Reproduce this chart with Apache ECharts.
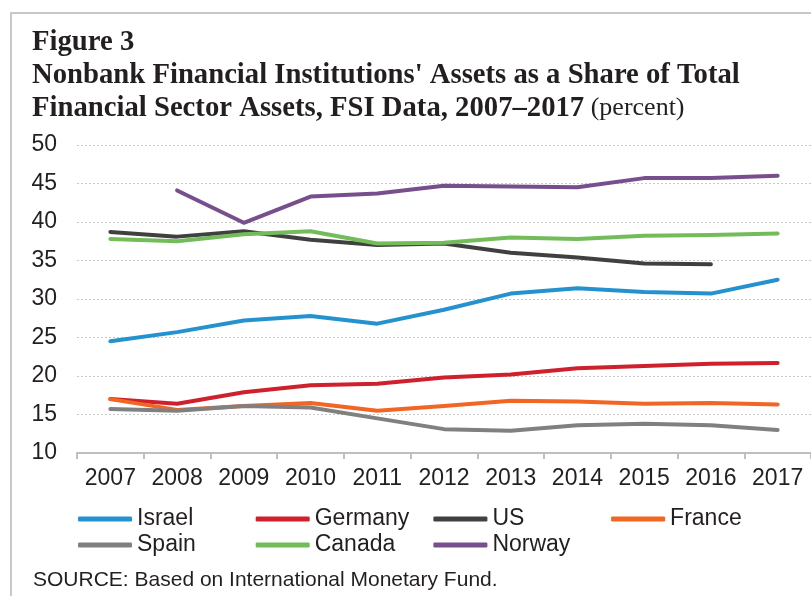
<!DOCTYPE html>
<html>
<head>
<meta charset="utf-8">
<script src="https://cdn.jsdelivr.net/npm/echarts@6/dist/echarts.min.js"></script>
<style>
  html, body { margin: 0; padding: 0; background: #fff; }
  #chart { width: 811px; height: 596px; }
</style>
</head>
<body>
<div id="chart"></div>
<script>
// categories and tick values
const years = ['2007', '2008', '2009', '2010', '2011', '2012', '2013', '2014', '2015', '2016', '2017']

// series values (percent)
const israel  = [24.5, 25.7, 27.2, 27.8, 26.8, 28.6, 30.7, 31.4, 30.9, 30.7, 32.5]
const germany = [17.0, 16.4, 17.9, 18.8, 19.0, 19.8, 20.2, 21.0, 21.3, 21.6, 21.7]
const us      = [38.7, 38.1, 38.8, 37.7, 37.0, 37.2, 36.0, 35.4, 34.6, 34.5, null]
const france  = [17.0, 15.6, 16.1, 16.5, 15.5, 16.1, 16.8, 16.7, 16.4, 16.5, 16.3]
const spain   = [15.7, 15.5, 16.1, 15.9, 14.5, 13.1, 12.9, 13.6, 13.8, 13.6, 13.0]
const canada  = [37.8, 37.5, 38.4, 38.8, 37.2, 37.3, 38.0, 37.8, 38.2, 38.3, 38.5]
const norway  = [null, 44.1, 39.9, 43.3, 43.7, 44.7, 44.6, 44.5, 45.7, 45.7, 46.0]

const names  = ['Israel', 'Germany', 'US', 'France', 'Spain', 'Canada', 'Norway']
const values = [israel, germany, us, france, spain, canada, norway]
const colors = ['#2592d0', '#cf202e', '#404040', '#f26624', '#808080', '#72bd5a', '#774f8d']

let myChart = echarts.init(document.getElementById('chart'))

let series = names.map(function (name, i) {
  return {
    name: name,
    type: 'line',
    data: values[i],
    showSymbol: false,
    symbol: 'none',
    connectNulls: false,
    lineStyle: { width: 4, color: colors[i], cap: 'round', join: 'round' },
    itemStyle: { color: colors[i] }
  }
})

let option = {
  animation: false,
  backgroundColor: '#fff',
  title: {
    left: 32,
    top: 26,
    padding: 0,
    text: '{b|Figure 3}\n{b|Nonbank Financial Institutions\' Assets as a Share of Total}\n{b|Financial Sector Assets, FSI Data, 2007\u20132017}{n| (percent)}',
    textStyle: {
      rich: {
        b: { fontFamily: 'Liberation Serif', fontWeight: 'bold', fontSize: 28.7, color: '#231f20', lineHeight: 33 },
        n: { fontFamily: 'Liberation Serif', fontWeight: 'normal', fontSize: 26, color: '#231f20', lineHeight: 33 }
      }
    }
  },
  legend: {
    left: 78,
    top: 506,
    padding: 0,
    width: 720,
    itemGap: 0,
    itemWidth: 54,
    itemHeight: 5,
    icon: 'roundRect',
    data: names,
    textStyle: {
      fontFamily: 'Liberation Sans',
      fontSize: 23,
      color: '#231f20',
      width: 118.7,
      lineHeight: 26
    }
  },
  grid: {
    left: 77,
    right: -4,
    top: 145,
    bottom: 143,
    containLabel: false
  },
  xAxis: {
    type: 'category',
    data: years,
    boundaryGap: true,
    axisLine: { lineStyle: { color: '#bfbfbf', width: 2 } },
    axisTick: { show: true, length: 6, lineStyle: { color: '#bfbfbf', width: 2 } },
    axisLabel: { fontFamily: 'Liberation Sans', fontSize: 23, color: '#231f20', margin: 14 }
  },
  yAxis: {
    type: 'value',
    min: 10,
    max: 50,
    interval: 5,
    axisLine: { show: false },
    axisTick: { show: false },
    axisLabel: { fontFamily: 'Liberation Sans', fontSize: 23, color: '#231f20', margin: 20 },
    splitLine: { lineStyle: { color: '#c8c8c8', width: 1, type: [2, 2] } }
  },
  graphic: [
    {
      type: 'polyline',
      shape: { points: [[11, 596], [11, 13], [811, 13]] },
      style: { stroke: '#c8c8c8', lineWidth: 2, fill: null },
      silent: true
    },
    {
      type: 'text',
      left: 33,
      top: 570,
      style: {
        text: 'SOURCE: Based on International Monetary Fund.',
        font: '21px "Liberation Sans"',
        fill: '#231f20'
      }
    }
  ],
  series: series
}

myChart.setOption(option)
window.addEventListener('resize', function () {
  myChart.resize()
})
</script>
</body>
</html>
